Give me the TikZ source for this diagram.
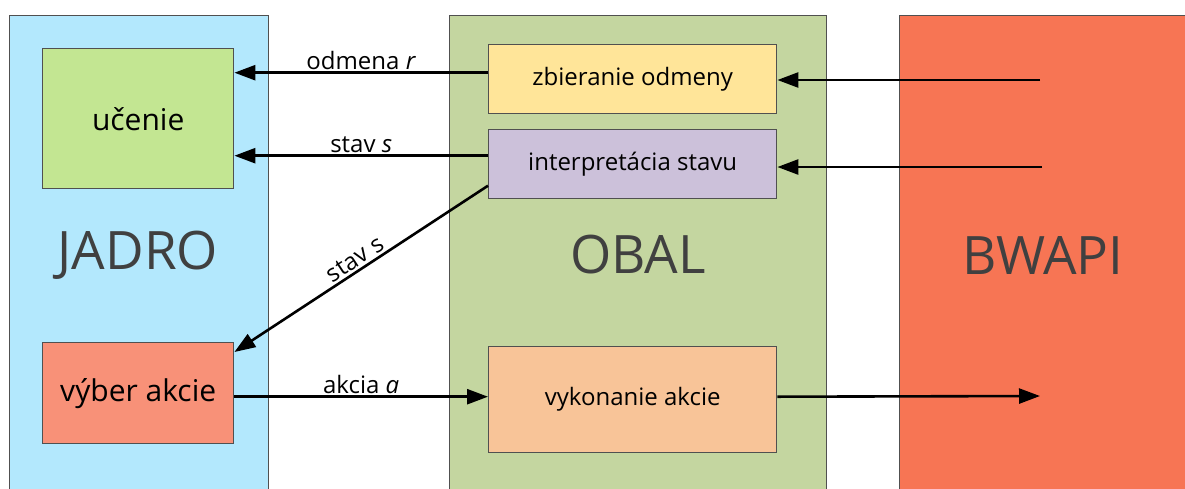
\documentclass[tikz,border=0pt]{standalone}
\usepackage{fontspec}
\setmainfont{Open Sans}
\usetikzlibrary{arrows.meta}
\definecolor{jadroC}{RGB}{179,232,253}
\definecolor{obalC}{RGB}{196,214,160}
\definecolor{bwapiC}{RGB}{247,117,84}
\definecolor{ucenieC}{RGB}{195,230,146}
\definecolor{vyberC}{RGB}{248,145,120}
\definecolor{zbierC}{RGB}{255,229,153}
\definecolor{interpC}{RGB}{204,193,218}
\definecolor{vykonC}{RGB}{248,196,152}
\definecolor{borderC}{RGB}{80,80,80}
\definecolor{bigC}{RGB}{64,64,64}
\tikzset{
  panel/.style={draw=borderC, line width=1pt, anchor=north west, inner sep=0pt},
  box/.style={draw=borderC, line width=1.4pt, anchor=north west, inner sep=0pt},
  boxtext/.style={font=\fontsize{24}{28}\selectfont},
  bigtext/.style={font=\fontsize{53}{60}\selectfont, text=bigC},
  arr/.style={line width=2.6pt, -{Triangle[length=21pt,width=15pt]}},
  lbl/.style={font=\fontsize{24}{28}\selectfont, inner sep=2pt},
}
\begin{document}
\begin{tikzpicture}[x=1pt,y=-1pt]
\useasboundingbox (0,0) rectangle (1185,488);
\fill[white] (0,0) rectangle (1185,488);
\begin{scope}
\clip (0,0) rectangle (1185,488);
% panels
\node[panel, fill=jadroC, minimum width=259pt, minimum height=490pt] (jadro) at (9,15) {};
\node[panel, fill=obalC, minimum width=377pt, minimum height=490pt] (obal) at (449,15) {};
\node[panel, fill=bwapiC, minimum width=300pt, minimum height=490pt] (bwapi) at (899,15) {};
\node[bigtext] (jadroL) at (138,255) {JADRO};
\node[bigtext] (obalL) at (638,255) {OBAL};
\node[bigtext] (bwapiL) at (1043,255) {BWAPI};
% boxes
\node[box, fill=ucenieC, minimum width=191pt, minimum height=140pt, font=\fontsize{30}{34}\selectfont] (ucenie) at (42,48) {};
\node (ucenieT) at (ucenie.center) {\fontsize{30}{34}\selectfont učenie};
\node[box, fill=vyberC, minimum width=191pt, minimum height=101pt] (vyber) at (42,342) {};
\node (vyberT) at (vyber.center) {\fontsize{30}{34}\selectfont výber akcie};
\node[box, fill=zbierC, minimum width=288pt, minimum height=69pt] (zbier) at (488,44) {};
\node[boxtext] (zbierT) at (zbier.center) {zbieranie odmeny};
\node[box, fill=interpC, minimum width=288pt, minimum height=69pt] (interp) at (488,129) {};
\node[boxtext] (interpT) at (interp.center) {interpretácia stavu};
\node[box, fill=vykonC, minimum width=288pt, minimum height=106pt] (vykon) at (488,346) {};
\node[boxtext] (vykonT) at (vykon.center) {vykonanie akcie};
% free ends
\coordinate (b1) at (1040,80);
\coordinate (b2) at (1042,167);
\coordinate (b3) at (1040,396);
% connectors
\draw[arr] ([yshift=6.5pt]zbier.west) coordinate (o1) -- node[lbl, above] (odmL) {odmena \textit{r}} (ucenie.east |- o1);
\draw[arr] ([yshift=8.5pt]interp.west) coordinate (s1) -- node[lbl, above] (stavL) {stav \textit{s}} (ucenie.east |- s1);
\draw[arr] (b1) -- (zbier.east |- b1);
\draw[arr] (b2) -- (interp.east |- b2);
\draw[arr] ([yshift=-21.5pt]interp.west) -- node[lbl, above, sloped] (stav2L) {stav s} ([yshift=-10pt]vyber.north east);
\draw[arr] ([yshift=-3.5pt]vyber.east) coordinate (a1) -- node[lbl, above] (akL) {akcia \textit{a}} (vykon.west |- a1);
\draw[arr] (vykon.east |- a1) -- (b3);
\end{scope}
\end{tikzpicture}
\end{document}
